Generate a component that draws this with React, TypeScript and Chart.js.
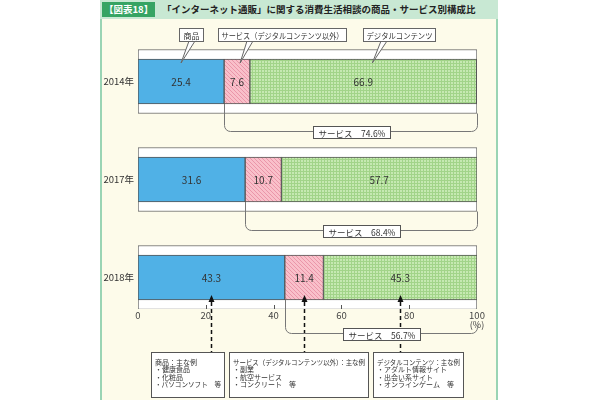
import React, { useEffect, useRef } from 'react';
import { Chart, registerables } from 'chart.js';

Chart.register(...registerables);

const categories = ['2014年', '2017年', '2018年'];
const goodsShare = [25.4, 31.6, 43.3];
const serviceShare = [7.6, 10.7, 11.4];
const digitalShare = [66.9, 57.7, 45.3];
const serviceTotal = [74.6, 68.4, 56.7];
const xTickValues = [0, 20, 40, 60, 80, 100];
const seriesNames = ['商品', 'サービス（デジタルコンテンツ以外）', 'デジタルコンテンツ'];
const exampleTitles = ['商品：主な例', 'サービス（デジタルコンテンツ以外）：主な例', 'デジタルコンテンツ：主な例'];
const goodsExamples = ['・健康食品', '・化粧品', '・パソコンソフト　等'];
const serviceExamples = ['・副業', '・航空サービス', '・コンクリート　等'];
const digitalExamples = ['・アダルト情報サイト', '・出会い系サイト', '・オンラインゲーム　等'];
const titleText = '「インターネット通販」に関する消費生活相談の商品・サービス別構成比';
const figLabel = '【図表18】';

const FONT = '"Noto Sans CJK JP", "Noto Sans", sans-serif';

function makePattern(kind: 'pink' | 'green'): CanvasPattern | string {
  const c = document.createElement('canvas');
  const g = c.getContext('2d');
  if (!g) return kind === 'pink' ? '#f4aebb' : '#b5e0a0';
  if (kind === 'pink') {
    c.width = 4; c.height = 4;
    g.fillStyle = '#f9c0ca';
    g.fillRect(0, 0, 4, 4);
    g.fillStyle = '#ea96a9';
    for (let i = 0; i < 4; i++) g.fillRect(i, i, 1, 1);
  } else {
    c.width = 3; c.height = 3;
    g.fillStyle = '#c6e9b2';
    g.fillRect(0, 0, 3, 3);
    g.fillStyle = '#a2d489';
    g.fillRect(0, 0, 3, 1);
    g.fillRect(0, 0, 1, 3);
  }
  return g.createPattern(c, 'repeat') || '#b5e0a0';
}

const annotPlugin = {
  id: 'annot',
  afterDatasetsDraw(chart: any) {
    const ctx: CanvasRenderingContext2D = chart.ctx;
    const xs = chart.scales.x;
    const area = chart.chartArea;
    const bgMeta = chart.getDatasetMeta(0);
    const segMetas = [1, 2, 3].map((i) => chart.getDatasetMeta(i));
    const values = [goodsShare, serviceShare, digitalShare];
    ctx.save();

    // segment value labels
    ctx.fillStyle = '#333';
    ctx.font = `10px ${FONT}`;
    ctx.textAlign = 'center';
    ctx.textBaseline = 'middle';
    segMetas.forEach((meta: any, k: number) => {
      meta.data.forEach((el: any, i: number) => {
        const cx = (el.x + el.base) / 2;
        ctx.fillText(values[k][i].toFixed(1), cx, el.y + 1);
      });
    });

    // inward tick marks on the bottom box
    ctx.strokeStyle = '#555';
    ctx.lineWidth = 1;
    xTickValues.slice(1, -1).forEach((v) => {
      const x = Math.round(xs.getPixelForValue(v)) + 0.5;
      ctx.beginPath();
      ctx.moveTo(x, area.bottom);
      ctx.lineTo(x, area.bottom - 4);
      ctx.stroke();
    });
    // (%)
    ctx.fillStyle = '#444';
    ctx.font = `9px ${FONT}`;
    ctx.fillText('(%)', xs.getPixelForValue(100), area.bottom + 16);

    // top callouts for 2014 bar
    const boxes = [
      [179, 28, 24, 13, 189],
      [218, 28, 128, 13, 247],
      [363, 28, 72, 13, 381],
    ];
    const tipFrac = [0.5, 0.62, 0.54];
    boxes.forEach((b, k) => {
      const el = segMetas[k].data[0];
      const tipX = el.base + (el.x - el.base) * tipFrac[k];
      const tipY = el.y - el.height / 2 + 4;
      const [bx, by, bw, bh, baseX] = b;
      ctx.fillStyle = '#fff';
      ctx.strokeStyle = '#666';
      ctx.lineWidth = 1;
      ctx.beginPath();
      ctx.moveTo(baseX, by + bh);
      ctx.lineTo(tipX, tipY);
      ctx.lineTo(baseX + 6, by + bh);
      ctx.closePath();
      ctx.fill();
      ctx.beginPath();
      ctx.moveTo(baseX, by + bh);
      ctx.lineTo(tipX, tipY);
      ctx.lineTo(baseX + 6, by + bh);
      ctx.stroke();
      ctx.fillRect(bx, by, bw, bh);
      ctx.strokeRect(bx + 0.5, by + 0.5, bw, bh);
      ctx.fillStyle = '#333';
      ctx.font = `8px ${FONT}`;
      ctx.textAlign = 'center';
      ctx.fillText(seriesNames[k], bx + bw / 2 + 0.5, by + bh / 2 + 1, bw - 6);
    });

    // dashed arrows from 2018 bar to example boxes
    const exBoxes = [
      [151, 352, 73, 45],
      [229, 352, 139, 45],
      [373, 352, 90, 45],
    ];
    segMetas.forEach((meta: any, k: number) => {
      const el = meta.data[2];
      const cx = Math.round((el.x + el.base) / 2) + 0.5;
      const tipY = el.y + el.height / 2 - 5;
      ctx.fillStyle = '#111';
      ctx.beginPath();
      ctx.moveTo(cx, tipY);
      ctx.lineTo(cx - 3, tipY + 7);
      ctx.lineTo(cx + 3, tipY + 7);
      ctx.closePath();
      ctx.fill();
      ctx.strokeStyle = '#111';
      ctx.lineWidth = 1.5;
      ctx.setLineDash([4, 3]);
      ctx.beginPath();
      ctx.moveTo(cx, tipY + 7);
      ctx.lineTo(cx, exBoxes[k][1]);
      ctx.stroke();
      ctx.setLineDash([]);
    });

    // service brackets
    const drops = [18, 18, 23];
    categories.forEach((_, i) => {
      const col = segMetas[0].data[i];
      const bg = bgMeta.data[i];
      const xL = Math.round(col.x) + 0.5;
      const xR = Math.round(xs.getPixelForValue(100)) + 0.5;
      const colBottom = col.y + col.height / 2;
      const bgBottom = bg.y + bg.height / 2;
      const yH = Math.round(bgBottom + drops[i]) + 0.5;
      const rightTop = i === 2 ? yH - 8 : bgBottom;
      const r = 6;
      ctx.strokeStyle = '#777';
      ctx.lineWidth = 1;
      ctx.beginPath();
      ctx.moveTo(xL, colBottom);
      ctx.lineTo(xL, yH - r);
      ctx.arcTo(xL, yH, xL + r, yH, r);
      ctx.lineTo(xR - r, yH);
      ctx.arcTo(xR, yH, xR, yH - r, r);
      ctx.lineTo(xR, rightTop);
      ctx.stroke();
      const label = `サービス　${serviceTotal[i].toFixed(1)}%`;
      ctx.font = `8.5px ${FONT}`;
      const tw = ctx.measureText(label).width;
      const bw = Math.round(tw + 10);
      const bh = 12;
      const cx = (xL + xR) / 2;
      const bx = Math.round(cx - bw / 2) + 0.5;
      const by = Math.round(yH - bh / 2) + 0.5;
      ctx.fillStyle = '#fff';
      ctx.fillRect(bx, by, bw, bh);
      ctx.strokeStyle = '#555';
      ctx.strokeRect(bx, by, bw, bh);
      ctx.fillStyle = '#333';
      ctx.textAlign = 'center';
      ctx.fillText(label, bx + bw / 2, by + bh / 2 + 1);
    });

    // example boxes
    const exLists = [goodsExamples, serviceExamples, digitalExamples];
    exBoxes.forEach(([bx, by, bw, bh], k) => {
      ctx.fillStyle = '#fff';
      ctx.fillRect(bx, by, bw, bh);
      ctx.strokeStyle = '#555';
      ctx.lineWidth = 1;
      ctx.strokeRect(bx + 0.5, by + 0.5, bw, bh);
      ctx.fillStyle = '#333';
      ctx.font = `7px ${FONT}`;
      ctx.textAlign = 'left';
      ctx.textBaseline = 'middle';
      ctx.fillText(exampleTitles[k], bx + 4, by + 10, bw - 7);
      exLists[k].forEach((t, j) => {
        ctx.fillText(t, bx + 4, by + 17.5 + j * 7.5, bw - 7);
      });
    });

    ctx.restore();
  },
};

export default function App() {
  const ref = useRef<HTMLCanvasElement>(null);

  useEffect(() => {
    if (!ref.current) return;
    Chart.defaults.font.family = FONT;
    const pink = makePattern('pink');
    const green = makePattern('green');
    const cum1 = goodsShare.map((g, i) => g + serviceShare[i]);
    const cum2 = cum1.map((c, i) => c + digitalShare[i]);

    const chart = new Chart(ref.current, {
      type: 'bar',
      data: {
        datasets: [
          {
            label: 'bg',
            data: categories.map((_, i) => ({ y: i, x: [0, 100] })) as any,
            backgroundColor: '#ffffff',
            borderColor: '#666',
            borderWidth: 1,
            borderSkipped: false,
            barThickness: 64,
            grouped: false,
            order: 10,
          } as any,
          {
            label: seriesNames[0],
            data: categories.map((_, i) => ({ y: i, x: [0, goodsShare[i]] })) as any,
            backgroundColor: '#50b1e6',
            borderColor: '#555',
            borderWidth: 1,
            borderSkipped: false,
            barThickness: 45,
            grouped: false,
            order: 0,
          } as any,
          {
            label: seriesNames[1],
            data: categories.map((_, i) => ({ y: i, x: [goodsShare[i], cum1[i]] })) as any,
            backgroundColor: pink,
            borderColor: '#555',
            borderWidth: 1,
            borderSkipped: false,
            barThickness: 45,
            grouped: false,
            order: 0,
          } as any,
          {
            label: seriesNames[2],
            data: categories.map((_, i) => ({ y: i, x: [cum1[i], cum2[i]] })) as any,
            backgroundColor: green,
            borderColor: '#555',
            borderWidth: 1,
            borderSkipped: false,
            barThickness: 45,
            grouped: false,
            order: 0,
          } as any,
        ],
      },
      options: {
        indexAxis: 'y',
        responsive: false,
        animation: false,
        layout: { padding: { left: 100, right: 123, top: 32, bottom: 73 } },
        plugins: { legend: { display: false }, tooltip: { enabled: false } },
        scales: {
          x: {
            type: 'linear',
            min: 0,
            max: 100,
            offset: false,
            grid: { display: false, drawTicks: false },
            border: { display: false },
            ticks: {
              stepSize: 20,
              padding: 1,
              color: '#444',
              font: { size: 9.5, family: FONT },
            },
            afterBuildTicks: (scale: any) => {
              scale.ticks = xTickValues.map((v) => ({ value: v }));
            },
            afterFit: (scale: any) => {
              scale.height = 18;
            },
          },
          y: {
            type: 'linear',
            min: -0.505,
            max: 2.321,
            reverse: true,
            offset: false,
            grid: { display: false, drawTicks: false },
            border: { display: false },
            ticks: {
              padding: 4,
              color: '#333',
              autoSkip: false,
              font: { size: 9.5, family: FONT },
              callback: (v: any) => categories[v as number] ?? '',
            },
            afterBuildTicks: (scale: any) => {
              scale.ticks = categories.map((_, i) => ({ value: i }));
            },
            afterFit: (scale: any) => {
              scale.width = 38;
            },
          },
        },
      } as any,
      plugins: [annotPlugin],
    });
    return () => chart.destroy();
  }, []);

  return (
    <div
      style={{
        position: 'absolute',
        left: 0,
        top: 0,
        width: 600,
        height: 400,
        background: '#ffffff',
        overflow: 'hidden',
        fontFamily: FONT,
      }}
    >
      <div
        style={{
          position: 'absolute',
          left: 100,
          top: 19,
          width: 398,
          height: 381,
          boxSizing: 'border-box',
          background: '#fdfbea',
          borderLeft: '2px solid #9ad4b4',
          borderRight: '2px solid #9ad4b4',
        }}
      />
      <div
        style={{
          position: 'absolute',
          left: 100,
          top: 0,
          width: 398,
          height: 19,
          background: '#c8e8d3',
        }}
      >
        <div
          style={{
            position: 'absolute',
            left: 2,
            top: 2,
            height: 15,
            padding: '0 2px',
            background: '#36a463',
            color: '#ffffff',
            fontWeight: 'bold',
            fontSize: 9.5,
            lineHeight: '15px',
            whiteSpace: 'nowrap',
          }}
        >
          {figLabel}
        </div>
        <div
          style={{
            position: 'absolute',
            left: 62,
            top: 0,
            height: 19,
            color: '#222',
            fontWeight: 'bold',
            fontSize: 9.5,
            lineHeight: '19px',
            whiteSpace: 'nowrap',
          }}
        >
          {titleText}
        </div>
      </div>
      <canvas
        ref={ref}
        width={600}
        height={400}
        style={{ position: 'absolute', left: 0, top: 0 }}
      />
    </div>
  );
}
